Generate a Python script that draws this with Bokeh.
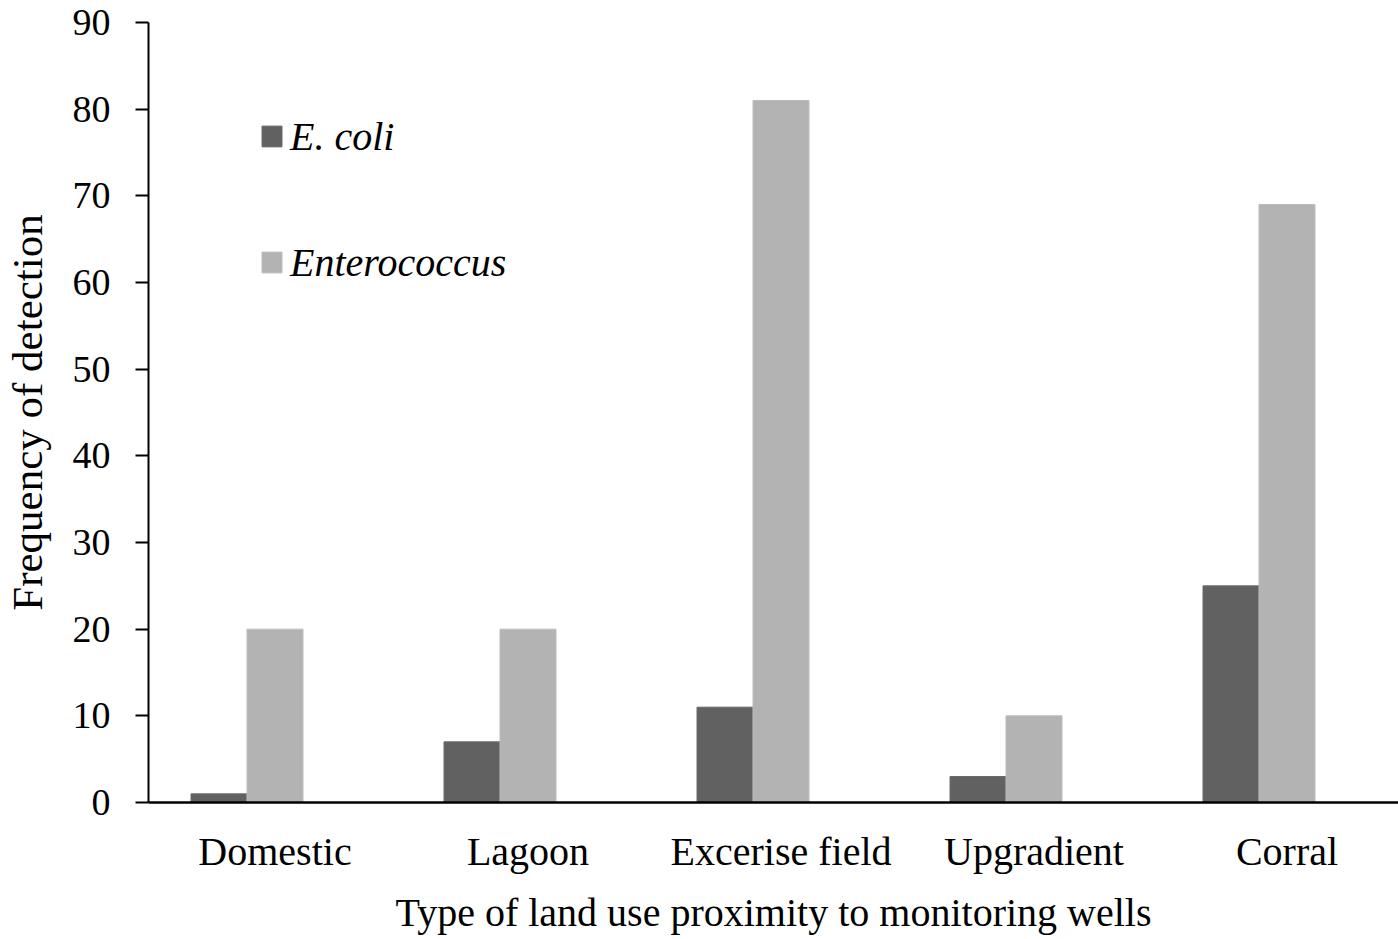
from bokeh.plotting import figure
from bokeh.models import ColumnDataSource, FixedTicker, Range1d, Legend, LegendItem
from bokeh.embed import file_html
from bokeh.resources import INLINE

categories = ["Domestic", "Lagoon", "Excerise field", "Upgradient", "Corral"]
ecoli = [1, 7, 11, 3, 25]
enterococcus = [20, 20, 81, 10, 69]
y_ticks = [0, 10, 20, 30, 40, 50, 60, 70, 80, 90]

FONT = "Liberation Serif"
BW = 56 / 253.0

idx = list(range(len(categories)))
centers = [i + 0.5 for i in idx]
src = ColumnDataSource(dict(
    x1=[c - BW for c in centers],
    x2=centers,
    ecoli=ecoli,
    ent=enterococcus,
))

p = figure(width=1398, height=939, output_backend="svg", toolbar_location=None,
           x_range=Range1d(0, 1250 / 253.0), y_range=Range1d(0, 90),
           min_border_left=148, min_border_right=0, min_border_top=22,
           min_border_bottom=137)
p.outline_line_color = None
p.grid.grid_line_color = None
p.background_fill_color = "white"
p.border_fill_color = "white"

r1 = p.vbar(x="x1", top="ecoli", width=BW, source=src, fill_color="#616161",
            line_color="#6a6a6a", line_width=1)
r2 = p.vbar(x="x2", top="ent", width=BW, source=src, fill_color="#b3b3b3",
            line_color="#bcbcbc", line_width=1)

# x axis
p.xaxis.ticker = FixedTicker(ticks=centers)
p.xaxis.major_label_overrides = {c: n for c, n in zip(centers, categories)}
p.xaxis.major_tick_line_color = None
p.xaxis.minor_tick_line_color = None
p.xaxis.axis_line_width = 2.5
p.xaxis.axis_line_color = "black"
p.xaxis.major_label_text_font = FONT
p.xaxis.major_label_text_font_size = "40px"
p.xaxis.major_label_text_color = "black"
p.xaxis.major_label_standoff = 20
p.xaxis.axis_label = "Type of land use proximity to monitoring wells"
p.xaxis.axis_label_text_font = FONT
p.xaxis.axis_label_text_font_size = "40px"
p.xaxis.axis_label_text_font_style = "normal"
p.xaxis.axis_label_text_color = "black"
p.xaxis.axis_label_standoff = 13

# y axis
p.yaxis.ticker = FixedTicker(ticks=y_ticks)
p.yaxis.minor_tick_line_color = None
p.yaxis.major_tick_in = 0
p.yaxis.major_tick_out = 13
p.yaxis.major_tick_line_width = 2
p.yaxis.axis_line_width = 2
p.yaxis.axis_line_color = "black"
p.yaxis.major_label_text_font = FONT
p.yaxis.major_label_text_font_size = "38px"
p.yaxis.major_label_text_color = "black"
p.yaxis.major_label_standoff = 25
p.yaxis.axis_label = "Frequency of detection"
p.yaxis.axis_label_text_font = FONT
p.yaxis.axis_label_text_font_size = "43px"
p.yaxis.axis_label_text_font_style = "normal"
p.yaxis.axis_label_text_color = "black"
p.yaxis.axis_label_standoff = 19

legend = Legend(items=[LegendItem(label="E. coli", renderers=[r1]),
                       LegendItem(label="Enterococcus", renderers=[r2])],
                location=(111, 515), orientation="vertical")
legend.label_text_font = FONT
legend.label_text_font_style = "italic"
legend.label_text_font_size = "40px"
legend.label_text_color = "black"
legend.label_height = 50
legend.glyph_height = 26
legend.glyph_width = 25
legend.label_standoff = 6
legend.spacing = 76
legend.padding = 0
legend.margin = 0
legend.border_line_color = None
legend.background_fill_alpha = 0
p.add_layout(legend, "center")

open("out.html", "w").write(file_html(p, INLINE))
